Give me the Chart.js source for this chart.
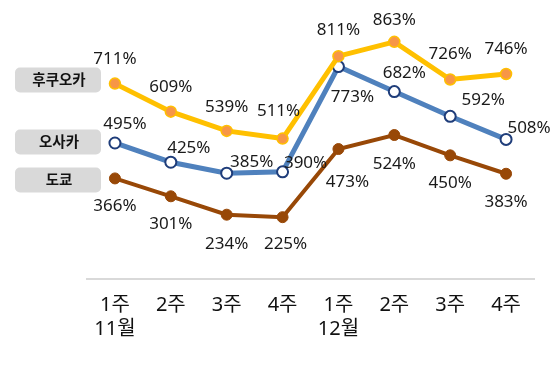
<!DOCTYPE html>
<html lang="ko">
<head>
    <meta charset="UTF-8">
    <title>주별 추이</title>
    <script src="https://cdn.jsdelivr.net/npm/chart.js"></script>
    <style>
        html, body { margin: 0; padding: 0; background: #fff; }
        #wrap { width: 559px; height: 368px; position: relative; }
    </style>
</head>
<body>
<div id="wrap"><canvas id="chart"></canvas></div>
<script>
    // data
    const weeks = [["1주", "11월"], "2주", "3주", "4주", ["1주", "12월"], "2주", "3주", "4주"];
    const seriesNames = ["후쿠오카", "오사카", "도쿄"];
    const fukuoka = [711, 609, 539, 511, 811, 863, 726, 746];
    const osaka = [495, 425, 385, 390, 773, 682, 592, 508];
    const tokyo = [366, 301, 234, 225, 473, 524, 450, 383];

    // label offsets from each point (dx, dy)
    const labelOffsets = [
        [[0,-24],[0,-24],[0,-24],[-4,-27],[0,-26],[0,-22],[0,-25],[0,-25]],
        [[10,-19],[18,-14],[25,-11],[23,-9],[14,31],[10,-18],[33,-16],[23,-11]],
        [[0,28],[0,28],[0,29],[3,27],[9,33],[0,29],[0,28],[0,28]]
    ];
    // legend box y centres
    const tagY = [80, 142, 180];

    const FONT = "'Noto Sans', 'Noto Sans CJK KR', sans-serif";

    const labelPlugin = {
        id: 'pointLabels',
        afterDatasetsDraw(chart) {
            const ctx = chart.ctx;
            ctx.save();
            ctx.font = "17px " + FONT;
            ctx.fillStyle = "#1a1a1a";
            ctx.textAlign = "center";
            ctx.textBaseline = "middle";
            chart.data.datasets.forEach((ds, i) => {
                chart.getDatasetMeta(i).data.forEach((pt, j) => {
                    const off = labelOffsets[i][j];
                    ctx.fillText(ds.data[j] + "%", pt.x + off[0], pt.y + off[1]);
                });
            });
            ctx.restore();
        }
    };

    const tagPlugin = {
        id: 'seriesTags',
        afterDraw(chart) {
            const ctx = chart.ctx;
            ctx.save();
            seriesNames.forEach((name, i) => {
                const x = 15, w = 86, h = 25, y = tagY[i] - h / 2;
                ctx.fillStyle = "#d9d9d9";
                ctx.beginPath();
                ctx.roundRect(x, y, w, h, 5);
                ctx.fill();
                ctx.fillStyle = "#111";
                ctx.font = "bold 14.5px " + FONT;
                ctx.textAlign = "center";
                ctx.textBaseline = "middle";
                ctx.fillText(name, x + w / 2 + 1, tagY[i] + 1);
            });
            ctx.restore();
        }
    };

    new Chart(document.getElementById('chart'), {
        type: 'line',
        data: {
            labels: weeks,
            datasets: [
                {
                    label: seriesNames[0], data: fukuoka,
                    borderColor: '#ffc000', borderWidth: 5,
                    pointBackgroundColor: '#f79646', pointBorderColor: '#ffc000',
                    pointBorderWidth: 1.5, pointRadius: 5.5, tension: 0
                },
                {
                    label: seriesNames[1], data: osaka,
                    borderColor: '#4f81bd', borderWidth: 5,
                    pointBackgroundColor: '#ffffff', pointBorderColor: '#1f3d7a',
                    pointBorderWidth: 2, pointRadius: 5.5, tension: 0
                },
                {
                    label: seriesNames[2], data: tokyo,
                    borderColor: '#984807', borderWidth: 4,
                    pointBackgroundColor: '#984807', pointBorderColor: '#984807',
                    pointBorderWidth: 1, pointRadius: 5.5, tension: 0
                }
            ]
        },
        options: {
            responsive: true,
            maintainAspectRatio: false,
            animation: false,
            layout: { padding: { left: 87, right: 25, top: 3, bottom: 13 } },
            plugins: { legend: { display: false }, tooltip: { enabled: false } },
            scales: {
                y: { display: false, min: 0, max: 988 },
                x: {
                    offset: true,
                    grid: { display: false, drawTicks: false },
                    border: { display: true, color: '#d9d9d9', width: 2 },
                    ticks: {
                        color: '#111', padding: 14, maxRotation: 0,
                        font: { size: 20, family: FONT }
                    }
                }
            }
        },
        plugins: [labelPlugin, tagPlugin]
    });
</script>
</body>
</html>
